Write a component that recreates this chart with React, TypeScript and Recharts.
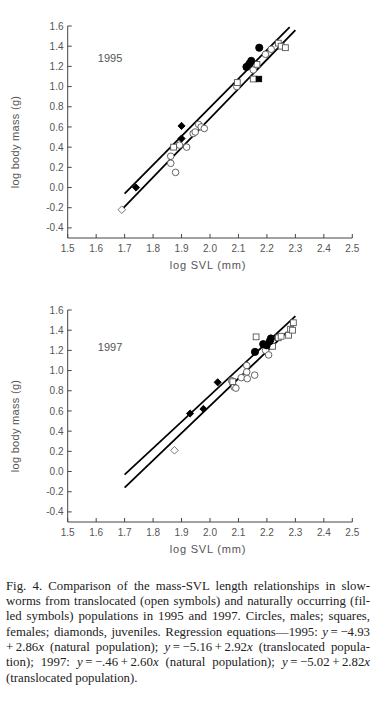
import React from 'react';
import { ScatterChart, Scatter, XAxis, YAxis, ReferenceLine, ReferenceDot, Label } from 'recharts';

type P = { x: number; y: number };

// ---- 1995 data ----
const natMales95: P[] = [
  { x: 2.128, y: 1.195 }, { x: 2.138, y: 1.225 }, { x: 2.145, y: 1.255 }, { x: 2.173, y: 1.385 },
];
const natFemales95: P[] = [{ x: 2.172, y: 1.075 }];
const natJuv95: P[] = [{ x: 1.74, y: 0.0 }, { x: 1.9, y: 0.61 }, { x: 1.9, y: 0.485 }];
const trMales95: P[] = [
  { x: 1.862, y: 0.31 }, { x: 1.862, y: 0.24 }, { x: 1.879, y: 0.15 }, { x: 1.893, y: 0.42 },
  { x: 1.918, y: 0.4 }, { x: 1.941, y: 0.535 }, { x: 1.948, y: 0.55 }, { x: 1.96, y: 0.625 },
  { x: 1.969, y: 0.6 }, { x: 1.98, y: 0.585 }, { x: 2.094, y: 1.0 }, { x: 2.152, y: 1.165 },
  { x: 2.195, y: 1.32 }, { x: 2.215, y: 1.37 },
];
const trFemales95: P[] = [
  { x: 1.872, y: 0.4 }, { x: 2.096, y: 1.04 }, { x: 2.152, y: 1.075 }, { x: 2.165, y: 1.22 },
  { x: 2.24, y: 1.43 }, { x: 2.25, y: 1.4 }, { x: 2.265, y: 1.385 },
];
const trJuv95: P[] = [{ x: 1.69, y: -0.22 }];
const natLine95: P[] = [{ x: 1.7, y: -0.06 }, { x: 2.28, y: 1.59 }];
const trLine95: P[] = [{ x: 1.69, y: -0.22 }, { x: 2.3, y: 1.56 }];

// ---- 1997 data ----
const natMales97: P[] = [
  { x: 2.158, y: 1.185 }, { x: 2.187, y: 1.262 }, { x: 2.199, y: 1.25 }, { x: 2.21, y: 1.29 },
  { x: 2.214, y: 1.318 },
];
const natFemales97: P[] = [];
const natJuv97: P[] = [{ x: 1.93, y: 0.575 }, { x: 1.977, y: 0.62 }, { x: 2.027, y: 0.884 }];
const trMales97: P[] = [
  { x: 2.076, y: 0.9 }, { x: 2.085, y: 0.836 }, { x: 2.091, y: 0.826 }, { x: 2.11, y: 0.93 },
  { x: 2.129, y: 1.05 }, { x: 2.129, y: 0.986 }, { x: 2.131, y: 0.92 }, { x: 2.157, y: 0.955 },
  { x: 2.195, y: 1.2 }, { x: 2.206, y: 1.155 },
];
const trFemales97: P[] = [
  { x: 2.08, y: 0.89 }, { x: 2.162, y: 1.334 }, { x: 2.22, y: 1.24 }, { x: 2.24, y: 1.325 },
  { x: 2.25, y: 1.34 }, { x: 2.276, y: 1.35 }, { x: 2.283, y: 1.41 }, { x: 2.29, y: 1.4 },
  { x: 2.293, y: 1.474 },
];
const trJuv97: P[] = [{ x: 1.875, y: 0.21 }];
const natLine97: P[] = [{ x: 1.7, y: -0.03 }, { x: 2.3, y: 1.54 }];
const trLine97: P[] = [{ x: 1.7, y: -0.16 }, { x: 2.27, y: 1.38 }];

// ---- axes ----
const xTicks = [1.5, 1.6, 1.7, 1.8, 1.9, 2.0, 2.1, 2.2, 2.3, 2.4, 2.5];
const yTicks = [-0.4, -0.2, 0.0, 0.2, 0.4, 0.6, 0.8, 1.0, 1.2, 1.4, 1.6];
const xDomain = [1.5, 2.5];
const yDomain = [-0.5, 1.6];
const xTitle = 'log SVL (mm)';
const yTitle = 'log body mass (g)';

const AXIS = '#444';
const TXT = '#555';
const FONT = '"Liberation Sans", Arial, sans-serif';

const circleShape = (filled: boolean) => (p: any) => (
  <circle cx={p.cx} cy={p.cy} r={filled ? 3.6 : 3.3} fill={filled ? '#000' : '#fff'} stroke={filled ? '#000' : '#555'} strokeWidth={0.9} />
);
const squareShape = (filled: boolean) => (p: any) => {
  const s = filled ? 5.4 : 5.8;
  return <rect x={p.cx - s / 2} y={p.cy - s / 2} width={s} height={s} fill={filled ? '#000' : '#fff'} stroke={filled ? '#000' : '#555'} strokeWidth={0.9} />;
};
const diamondShape = (filled: boolean) => (p: any) => {
  const h = filled ? 3.6 : 3.8;
  const pts = `${p.cx},${p.cy - h} ${p.cx + h},${p.cy} ${p.cx},${p.cy + h} ${p.cx - h},${p.cy}`;
  return <polygon points={pts} fill={filled ? '#000' : '#fff'} stroke={filled ? '#000' : '#666'} strokeWidth={0.9} />;
};

const YTitle = (props: any) => {
  const vb = props.viewBox;
  const cx = vb.x - 2.5;
  const cy = vb.y + vb.height / 2 + 10;
  return (
    <text x={cx} y={cy} transform={`rotate(-90 ${cx} ${cy})`} textAnchor="middle" dominantBaseline="central" fontFamily={FONT} fontSize={11} fill={TXT} letterSpacing={0.3}>
      {yTitle}
    </text>
  );
};
const XTitle = (props: any) => {
  const vb = props.viewBox;
  return (
    <text x={vb.x + vb.width / 2 - 2} y={vb.y + 31} textAnchor="middle" fontFamily={FONT} fontSize={11} fill={TXT} letterSpacing={0.8}>
      {xTitle}
    </text>
  );
};

type PanelProps = {
  year: string;
  yearPos: P;
  natMales: P[]; natFemales: P[]; natJuv: P[];
  trMales: P[]; trFemales: P[]; trJuv: P[];
  natLine: P[]; trLine: P[];
};

const Panel = (d: PanelProps) => (
  <ScatterChart width={385} height={280} margin={{ top: 26, right: 32.7, left: 17.7, bottom: 2 }}>
    <XAxis type="number" dataKey="x" domain={xDomain} ticks={xTicks} allowDataOverflow
      tickFormatter={(v: number) => v.toFixed(1)} height={40} stroke={AXIS} tickSize={-4} tickMargin={10.7}
      tick={{ fill: TXT, fontSize: 10, fontFamily: FONT }} interval={0}>
      <Label content={XTitle} />
    </XAxis>
    <YAxis type="number" dataKey="y" domain={yDomain} ticks={yTicks} allowDataOverflow
      tickFormatter={(v: number) => v.toFixed(1)} width={50} stroke={AXIS} tickSize={-4} tickMargin={8.2}
      tick={{ fill: TXT, fontSize: 10, fontFamily: FONT }} interval={0}>
      <Label content={YTitle} />
    </YAxis>
    <ReferenceLine segment={d.natLine} stroke="#000" strokeWidth={1.8} />
    <ReferenceLine segment={d.trLine} stroke="#000" strokeWidth={1.8} />
    <ReferenceDot x={d.yearPos.x} y={d.yearPos.y} r={0} fill="none" stroke="none"
      label={{ value: d.year, position: 'center', fill: TXT, fontSize: 11, fontFamily: FONT }} />
    <Scatter data={d.trMales} shape={circleShape(false)} isAnimationActive={false} />
    <Scatter data={d.trFemales} shape={squareShape(false)} isAnimationActive={false} />
    <Scatter data={d.trJuv} shape={diamondShape(false)} isAnimationActive={false} />
    <Scatter data={d.natMales} shape={circleShape(true)} isAnimationActive={false} />
    <Scatter data={d.natFemales} shape={squareShape(true)} isAnimationActive={false} />
    <Scatter data={d.natJuv} shape={diamondShape(true)} isAnimationActive={false} />
  </ScatterChart>
);

const ts = '\u2009';
const captionLines: React.ReactNode[] = [
  <>Fig. 4. Comparison of the mass-SVL length relationships in slow-</>,
  <>worms from translocated (open symbols) and naturally occurring (fil-</>,
  <>led symbols) populations in 1995 and 1997. Circles, males; squares,</>,
  <>females; diamonds, juveniles. Regression equations—1995: <i>y</i>{ts}={ts}−4.93</>,
  <>+{ts}2.86<i>x</i> (natural population); <i>y</i>{ts}={ts}−5.16{ts}+{ts}2.92<i>x</i> (translocated popula-</>,
  <>tion); 1997: <i>y</i>{ts}={ts}−.46{ts}+{ts}2.60<i>x</i> (natural population); <i>y</i>{ts}={ts}−5.02{ts}+{ts}2.82<i>x</i></>,
  <>(translocated population).</>,
];

export default function App() {
  return (
    <div style={{ position: 'absolute', left: 0, top: 0, width: 385, height: 703, background: '#fff', overflow: 'hidden' }}>
      <div style={{ position: 'absolute', left: 0, top: 0 }}>
        <Panel year="1995" yearPos={{ x: 1.649, y: 1.283 }} natMales={natMales95} natFemales={natFemales95} natJuv={natJuv95}
          trMales={trMales95} trFemales={trFemales95} trJuv={trJuv95} natLine={natLine95} trLine={trLine95} />
      </div>
      <div style={{ position: 'absolute', left: 0, top: 284 }}>
        <Panel year="1997" yearPos={{ x: 1.649, y: 1.235 }} natMales={natMales97} natFemales={natFemales97} natJuv={natJuv97}
          trMales={trMales97} trFemales={trFemales97} trJuv={trJuv97} natLine={natLine97} trLine={trLine97} />
      </div>
      <div style={{ position: 'absolute', left: 6, top: 578.5, width: 364, fontFamily: '"Liberation Serif", "Times New Roman", serif', fontSize: 12.8, lineHeight: '15.35px', color: '#222' }}>
        {captionLines.map((ln, i) => (
          <div key={i} style={{ whiteSpace: 'nowrap', textAlign: i === captionLines.length - 1 ? 'left' : 'justify', textAlignLast: i === captionLines.length - 1 ? 'left' : 'justify' } as React.CSSProperties}>
            {ln}
          </div>
        ))}
      </div>
    </div>
  );
}
